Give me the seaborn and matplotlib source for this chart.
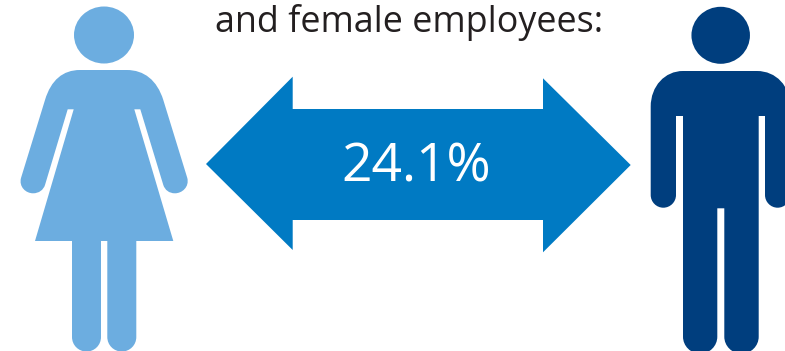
import matplotlib
matplotlib.use("Agg")
import matplotlib.pyplot as plt
from matplotlib.patches import Ellipse, PathPatch
from matplotlib.path import Path
import seaborn as sns

pay_gap_percent = [24.1]
heading_lines = ["and female employees:"]
group_names = ["female", "male"]
group_colors = ["#6CADE0", "#003E7E"]
arrow_color = "#007AC3"
ink_color = "#231F20"

sns.set_theme(style="white")
plt.rcParams["font.family"] = ["Open Sans", "DejaVu Sans"]


def outline(start, *segments):
    """Closed path from a start point; three-point segments are cubic curves."""
    verts, codes = [start], [Path.MOVETO]
    for seg in segments:
        if len(seg) == 2 and isinstance(seg[0], (int, float)):
            verts.append(seg)
            codes.append(Path.LINETO)
        elif len(seg) == 3:
            verts.extend(seg)
            codes.extend([Path.CURVE4] * 3)
    verts.append(start)
    codes.append(Path.CLOSEPOLY)
    return Path(verts, codes)


female_body = outline(
    (80, 70),
    (126.7, 70),
    ((144, 70), (157, 80), (163.3, 100)),
    (187.3, 178),
    ((189.5, 187), (182, 193.3), (175, 193.3)),
    ((169, 193.3), (165, 190), (163.3, 185)),
    (140.3, 109.3), (134.3, 109.3), (173.3, 241), (136.3, 241), (136.3, 337),
    ((136.3, 345), (130, 351.5), (121.8, 351.5)),
    ((113.6, 351.5), (107.3, 345), (107.3, 337)),
    (107.3, 241), (101, 241), (101, 337),
    ((101, 345), (94.7, 351.5), (86.5, 351.5)),
    ((78.3, 351.5), (72, 345), (72, 337)),
    (72, 241), (35, 241), (73.7, 109.3), (67.7, 109.3), (45, 185),
    ((43.3, 190), (39, 193.3), (33, 193.3)),
    ((26, 193.3), (18.7, 187), (21, 178)),
    (45, 100),
    ((51, 80), (63, 70), (80, 70)),
)

male_body = outline(
    (683, 71),
    (757, 71),
    ((776, 71), (790.3, 86), (790.3, 106.7)),
    (790.3, 195),
    ((790.3, 202), (784.5, 207.7), (777.6, 207.7)),
    ((770.7, 207.7), (765, 202), (765, 195)),
    (765, 116), (758.7, 116), (758.7, 336.7),
    ((758.7, 346), (751, 353.7), (741.5, 353.7)),
    ((732, 353.7), (724.3, 346), (724.3, 336.7)),
    (724.3, 208.3), (717.3, 208.3), (717.3, 336.7),
    ((717.3, 346), (709.6, 353.7), (700.2, 353.7)),
    ((690.7, 353.7), (683, 346), (683, 336.7)),
    (683, 116), (676, 116), (676, 195),
    ((676, 202), (670.3, 207.7), (663.3, 207.7)),
    ((656.4, 207.7), (650.7, 202), (650.7, 195)),
    (650.7, 106.7),
    ((650.7, 86), (665, 71), (683, 71)),
)

gap_arrow = outline(
    (206, 164),
    (292.7, 76.7), (292.7, 109), (543, 109), (543, 78.3), (630.7, 165),
    (543, 252.3), (543, 220), (292.7, 220), (292.7, 250),
)

fig = plt.figure(figsize=(7.85, 3.51), dpi=100, facecolor="white")
ax = fig.add_axes([0, 0, 1, 1])
ax.set_xlim(0, 785)
ax.set_ylim(351, 0)
ax.set_axis_off()
sns.despine(ax=ax, left=True, bottom=True)

ax.add_patch(PathPatch(female_body, facecolor=group_colors[0], edgecolor="none", label=group_names[0]))
ax.add_patch(Ellipse((104, 35), 60, 57, facecolor=group_colors[0], edgecolor="none"))
ax.add_patch(PathPatch(male_body, facecolor=group_colors[1], edgecolor="none", label=group_names[1]))
ax.add_patch(Ellipse((720.7, 35.3), 58.5, 57, facecolor=group_colors[1], edgecolor="none"))
ax.add_patch(PathPatch(gap_arrow, facecolor=arrow_color, edgecolor="none"))

ax.text(409.5, 32, heading_lines[0], ha="center", va="baseline",
        fontsize=25.8, color=ink_color)
ax.text(416, 181, f"{pay_gap_percent[0]}%", ha="center", va="baseline",
        fontsize=38.5, color="white")

fig.savefig("out.png", dpi=100)
